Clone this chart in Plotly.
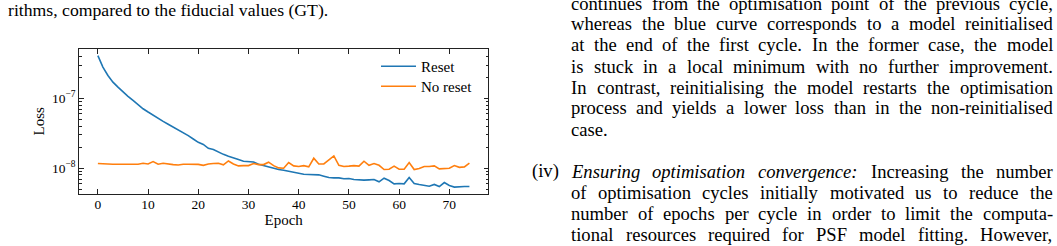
import math
import plotly.graph_objects as go

# ---------------- data ----------------
epochs = list(range(75))
loss_reset = [
    4.11e-7, 2.81e-7, 2.13e-7, 1.71e-7, 1.45e-7, 1.23e-7, 1.07e-7, 9.35e-8, 8.13e-8, 7.11e-8,
    6.38e-8, 5.71e-8, 5.24e-8, 4.69e-8, 4.26e-8, 3.89e-8, 3.56e-8, 3.20e-8, 2.93e-8, 2.62e-8,
    2.35e-8, 2.19e-8, 1.93e-8, 1.85e-8, 1.69e-8, 1.58e-8, 1.48e-8, 1.42e-8, 1.33e-8, 1.26e-8,
    1.245e-8, 1.23e-8, 1.14e-8, 1.09e-8, 1.045e-8, 9.89e-9, 9.57e-9, 9.35e-9, 9.06e-9, 8.57e-9,
    8.39e-9, 8.20e-9, 8.13e-9, 8.04e-9, 8.04e-9, 7.69e-9, 7.36e-9, 7.28e-9, 7.28e-9, 7.05e-9,
    7.11e-9, 6.89e-9, 6.75e-9, 6.75e-9, 6.81e-9, 6.89e-9, 6.38e-9, 7.19e-9, 6.67e-9, 5.97e-9,
    6.04e-9, 5.97e-9, 7.36e-9, 6.04e-9, 5.85e-9, 5.65e-9, 5.53e-9, 5.85e-9, 5.47e-9, 6.24e-9,
    5.65e-9, 5.36e-9, 5.47e-9, 5.47e-9, 5.47e-9,
]
loss_no_reset = [
    1.167e-8, 1.148e-8, 1.148e-8, 1.14e-8, 1.14e-8, 1.148e-8, 1.148e-8, 1.148e-8, 1.14e-8, 1.18e-8,
    1.15e-8, 1.245e-8, 1.14e-8, 1.18e-8, 1.14e-8, 1.127e-8, 1.11e-8, 1.14e-8, 1.14e-8, 1.15e-8,
    1.135e-8, 1.10e-8, 1.15e-8, 1.167e-8, 1.18e-8, 1.117e-8, 1.27e-8, 1.15e-8, 1.08e-8, 1.09e-8,
    1.09e-8, 1.167e-8, 1.127e-8, 1.127e-8, 1.22e-8, 1.09e-8, 1.01e-8, 1.00e-8, 1.205e-8, 1.08e-8,
    1.057e-8, 1.09e-8, 1.045e-8, 1.39e-8, 1.15e-8, 1.15e-8, 1.30e-8, 1.50e-8, 1.10e-8, 1.057e-8,
    1.07e-8, 1.09e-8, 1.07e-8, 1.26e-8, 1.10e-8, 1.167e-8, 1.10e-8, 9.57e-9, 9.68e-9, 1.07e-8,
    9.68e-9, 9.68e-9, 1.205e-8, 9.57e-9, 9.89e-9, 1.057e-8, 1.057e-8, 1.08e-8, 9.77e-9, 9.77e-9,
    1.00e-8, 1.09e-8, 1.03e-8, 1.045e-8, 1.18e-8,
]
series_names = ["Reset", "No reset"]
x_tick_vals = [0, 10, 20, 30, 40, 50, 60, 70]
y_tick_vals = [1e-8, 1e-7]
y_tick_text = ["10<sup>−8</sup>", "10<sup>−7</sup>"]
y_minor_vals = [k * 1e-9 for k in range(2, 10)] + [k * 1e-8 for k in range(2, 10)] + [k * 1e-7 for k in range(2, 10)]
x_title = "Epoch"
y_title = "Loss"

caption_text = "rithms, compared to the fiducial values (GT)."
body_lines = [
    "continues from the optimisation point of the previous cycle,",
    "whereas the blue curve corresponds to a model reinitialised",
    "at the end of the first cycle. In the former case, the model",
    "is stuck in a local minimum with no further improvement.",
    "In contrast, reinitialising the model restarts the optimisation",
    "process and yields a lower loss than in the non-reinitialised",
    "case.",
    "*Ensuring *optimisation *convergence: Increasing the number",
    "of optimisation cycles initially motivated us to reduce the",
    "number of epochs per cycle in order to limit the computa-",
    "tional resources required for PSF model fitting. However,",
]
item_label = "(iv)"

# ---------------- page geometry ----------------
W, H = 1057, 246
BLUE, ORANGE = "#1f77b4", "#ff7f0e"
SERIF = "Liberation Serif"

def px(x):
    return x / W

def py(y):
    return 1 - y / H

# plot frame in pixels
L, R, T, B = 79.3, 488.0, 49.0, 193.7

xmin, xmax = min(epochs), max(epochs)
xpad = 0.05 * (xmax - xmin)
lo = math.log10(min(min(loss_reset), min(loss_no_reset)))
hi = math.log10(max(max(loss_reset), max(loss_no_reset)))
ypad = 0.05 * (hi - lo)

fig = go.Figure()
fig.add_trace(go.Scatter(x=epochs, y=loss_reset, mode="lines", name=series_names[0],
                         line=dict(color=BLUE, width=1.6), legend="legend"))
fig.add_trace(go.Scatter(x=epochs, y=loss_no_reset, mode="lines", name=series_names[1],
                         line=dict(color=ORANGE, width=1.6), legend="legend2"))

axis_common = dict(showline=True, linecolor="#222", linewidth=1, mirror="allticks",
                   ticks="inside", tickcolor="#222", showgrid=False, zeroline=False,
                   automargin=False, tickfont=dict(family=SERIF, size=13.5, color="black"))

legend_common = dict(xanchor="left", yanchor="top", bgcolor="rgba(0,0,0,0)", borderwidth=0,
                     itemwidth=35, font=dict(family=SERIF, size=15, color="black"))

fig.update_layout(
    width=W, height=H, margin=dict(l=0, r=0, t=0, b=0),
    paper_bgcolor="white", plot_bgcolor="white",
    showlegend=True,
    legend=dict(x=px(376), y=py(50), **legend_common),
    legend2=dict(x=px(376), y=py(70), **legend_common),
    xaxis=dict(domain=[px(L), px(R)], range=[xmin - xpad, xmax + xpad],
               tickvals=x_tick_vals, ticklen=4.5, ticklabelstandoff=-2,
               title=dict(text=x_title, standoff=1, font=dict(family=SERIF, size=15, color="black")),
               **axis_common),
    yaxis=dict(domain=[py(B), py(T)], type="log", range=[lo - ypad, hi + ypad],
               tickvals=y_tick_vals, ticktext=y_tick_text, ticklen=4.5,
               minor=dict(ticks="inside", ticklen=2.5, tickcolor="#222", tickvals=y_minor_vals, showgrid=False),
               title=dict(text=y_title, standoff=3, font=dict(family=SERIF, size=15, color="black")),
               **axis_common),
)

# ---------------- surrounding page text ----------------
TIMES = {
    'a': 444, 'b': 500, 'c': 444, 'd': 500, 'e': 444, 'f': 333, 'g': 500, 'h': 500, 'i': 278, 'j': 278,
    'k': 500, 'l': 278, 'm': 778, 'n': 500, 'o': 500, 'p': 500, 'q': 500, 'r': 333, 's': 389, 't': 278,
    'u': 500, 'v': 500, 'w': 722, 'x': 500, 'y': 500, 'z': 444,
    'A': 722, 'B': 667, 'C': 667, 'D': 722, 'E': 611, 'F': 556, 'G': 722, 'H': 722, 'I': 333, 'J': 389,
    'K': 722, 'L': 611, 'M': 889, 'N': 722, 'O': 722, 'P': 556, 'Q': 722, 'R': 667, 'S': 556, 'T': 611,
    'U': 722, 'V': 722, 'W': 944, 'X': 722, 'Y': 722, 'Z': 611,
    ' ': 250, ',': 250, '.': 250, '-': 333, ':': 278, '(': 333, ')': 333,
}
TIMES_I = dict(TIMES)
TIMES_I.update({'a': 500, 'f': 278, 'k': 444, 'm': 722, 'r': 389, 'v': 444, 'w': 667, 'x': 444,
                'y': 444, 'z': 389, ':': 333, 'E': 611})

def word_width(word, size, italic=False):
    tbl = TIMES_I if italic else TIMES
    return sum(tbl.get(ch, 500) for ch in word) * size / 1000.0

BODY_FS = 18.6
CAP_FS = 17.7
TEXT_L, TEXT_R = 569, 1051
LEAD = 21.0
line_y = [3 + LEAD * k for k in range(7)] + [3 + LEAD * k for k in range(8, 12)]

annotations = []

def add_text(x, y, text, size, anchor="left"):
    annotations.append(dict(x=px(x), y=py(y), xref="paper", yref="paper", text=text, showarrow=False,
                            xanchor=anchor, yanchor="middle",
                            font=dict(family=SERIF, size=size, color="black")))

add_text(5.5, 10, caption_text, CAP_FS)

for i, line in enumerate(body_lines):
    words = line.split(" ")
    parsed = [(w.lstrip("*"), w.startswith("*")) for w in words]
    y = line_y[i]
    if i == 6:  # last line of paragraph: not justified
        add_text(TEXT_L, y, line, BODY_FS)
        continue
    if i == 7:
        add_text(529.5, y, item_label, BODY_FS)
    widths = [word_width(w, BODY_FS, it) for w, it in parsed]
    gap = (TEXT_R - TEXT_L - sum(widths)) / (len(parsed) - 1)
    x = TEXT_L
    for (w, it), wd in zip(parsed, widths):
        add_text(x, y, f"<i>{w}</i>" if it else w, BODY_FS)
        x += wd + gap

fig.update_layout(annotations=annotations)
fig.write_html("out.html")
